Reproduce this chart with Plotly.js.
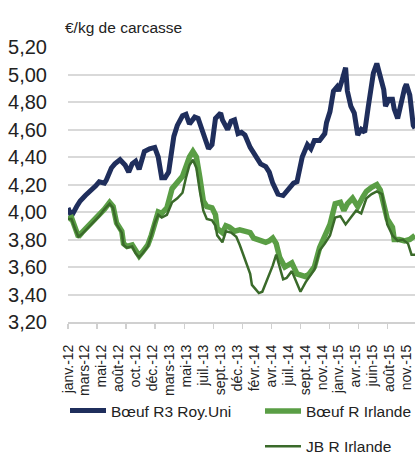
<!DOCTYPE html>
<html>
<head>
<meta charset="utf-8">
<script src="https://cdn.plot.ly/plotly-3.0.1.min.js"></script>
<style>
  html, body { margin: 0; padding: 0; background: #ffffff; }
  #chart { width: 415px; height: 456px; }
</style>
</head>
<body>
<div id="chart"></div>
<script>
// Week index (0 = first week of janv. 2012) and prices in €/kg de carcasse
var weeksUK = [0,2,5,7,10,13,16,18,21,22,25,27,30,33,35,37,39,41,44,47,50,52,54,56,58,61,63,66,68,70,73,75,77,79,81,83,85,88,89,92,94,96,98,100,102,105,108,111,114,116,118,121,124,127,130,132,134,135,138,140,142,145,148,149,151,153,155,156,158,160,161,163,165,167,169,171,173,175,176,178,180,182,183,185,187,188,190,192,194,195,197,199,200];
var valuesUK = [4.03,3.97,4.04,4.08,4.12,4.15,4.19,4.22,4.21,4.23,4.32,4.35,4.38,4.34,4.29,4.35,4.37,4.31,4.44,4.46,4.47,4.40,4.25,4.25,4.29,4.55,4.63,4.70,4.71,4.64,4.69,4.68,4.60,4.53,4.46,4.49,4.68,4.72,4.67,4.60,4.66,4.67,4.57,4.58,4.56,4.47,4.41,4.35,4.33,4.29,4.21,4.13,4.12,4.16,4.21,4.22,4.33,4.40,4.49,4.46,4.52,4.52,4.57,4.65,4.73,4.88,4.91,4.88,4.96,5.05,4.88,4.77,4.72,4.56,4.60,4.58,4.76,4.93,5.01,5.08,4.99,4.89,4.77,4.82,4.82,4.75,4.68,4.80,4.90,4.93,4.85,4.63,4.61];

var weeksIE = [0,2,4,6,8,11,15,18,21,24,26,28,31,32,34,37,39,41,43,46,48,50,52,54,57,60,63,66,68,70,72,74,76,78,80,83,85,86,89,91,93,96,99,102,105,107,111,114,116,118,120,122,125,127,129,132,134,137,139,142,145,148,151,154,157,159,161,164,167,170,172,175,178,180,182,184,187,188,191,194,197,200];
var valuesIE = [3.95,3.96,3.89,3.82,3.85,3.89,3.93,3.97,4.02,4.07,4.04,3.92,3.86,3.77,3.75,3.76,3.71,3.68,3.71,3.76,3.83,3.93,4.00,3.99,4.03,4.17,4.21,4.26,4.33,4.40,4.44,4.40,4.25,4.08,4.04,4.03,3.98,3.88,3.85,3.90,3.89,3.86,3.87,3.86,3.85,3.81,3.79,3.78,3.79,3.81,3.77,3.67,3.60,3.61,3.63,3.55,3.54,3.53,3.55,3.60,3.74,3.82,3.91,4.06,4.07,4.01,4.06,4.10,4.04,4.11,4.15,4.18,4.20,4.16,4.03,3.95,3.89,3.80,3.80,3.79,3.80,3.83];

var weeksJB = [0,2,4,6,8,11,15,18,21,24,26,28,31,32,34,37,39,41,43,46,48,50,52,54,57,60,63,66,68,70,72,74,76,78,80,83,85,86,89,91,94,97,99,102,105,106,110,112,115,118,120,122,124,126,129,132,134,137,139,142,145,148,151,154,157,160,163,166,169,172,175,178,181,183,184,187,190,193,196,198,200];
var valuesJB = [3.95,3.95,3.88,3.82,3.84,3.88,3.93,3.97,4.02,4.06,4.03,3.91,3.85,3.76,3.74,3.75,3.70,3.67,3.70,3.75,3.83,3.92,3.98,3.96,3.98,4.07,4.10,4.14,4.25,4.34,4.38,4.32,4.15,4.01,3.95,3.94,3.90,3.83,3.78,3.86,3.85,3.82,3.76,3.65,3.55,3.47,3.41,3.42,3.51,3.61,3.69,3.60,3.51,3.52,3.57,3.48,3.42,3.49,3.53,3.58,3.72,3.77,3.83,3.96,3.97,3.91,3.96,4.01,3.99,4.10,4.13,4.15,4.13,3.98,3.91,3.83,3.79,3.80,3.77,3.69,3.69];

var seriesNames = ["Bœuf R3 Roy.Uni", "Bœuf R Irlande", "JB R Irlande"];
var tickLabels = ["janv.-12","mars-12","mai-12","août-12","oct.-12","déc.-12","mars-13","mai-13","juil.-13","sept.-13","déc.-13","févr.-14","avr.-14","juil.-14","sept.-14","nov.-14","janv.-15","avr.-15","juin-15","août-15","nov.-15"];
var yTitle = "€/kg de carcasse";

var FONT = '"Liberation Sans", Arial, sans-serif';
var labelStep = 9.76;   // weeks between labels
var markStep = 16.75;   // weeks between tick marks
var labelVals = tickLabels.map(function (_, i) { return i * labelStep; });
var markVals = [];
for (var k = 0; k * markStep <= 200; k++) markVals.push(k * markStep);

var traces = [
  { x: weeksUK, y: valuesUK, name: seriesNames[0], type: 'scatter', mode: 'lines',
    line: { color: '#1f2e5c', width: 5 }, legend: 'legend', legendgroup: 'a' },
  { x: weeksIE, y: valuesIE, name: seriesNames[1], type: 'scatter', mode: 'lines',
    line: { color: '#5a9e45', width: 5.5 }, legend: 'legend2', legendgroup: 'b' },
  { x: weeksJB, y: valuesJB, name: seriesNames[2], type: 'scatter', mode: 'lines',
    line: { color: '#3a6a2a', width: 2.5 }, legend: 'legend2', legendgroup: 'c' }
];

var layout = {
  width: 415, height: 456,
  margin: { l: 68, r: 0, t: 47, b: 134, pad: 0, autoexpand: false },
  paper_bgcolor: '#ffffff', plot_bgcolor: '#ffffff',
  separators: ',.',
  font: { family: FONT, color: '#222222' },
  title: { text: yTitle, x: 65 / 415, xref: 'container', xanchor: 'left',
           y: 1 - 28 / 456, yref: 'container', yanchor: 'middle', automargin: false,
           font: { family: FONT, size: 15.5, color: '#222222' } },
  xaxis: {
    range: [0, 200], showgrid: false, zeroline: false, automargin: false,
    showline: true, linecolor: '#d0d0d0', linewidth: 2,
    tickmode: 'array', tickvals: labelVals, ticktext: tickLabels,
    tickangle: -90, ticks: '', ticklabelstandoff: 15, ticklabeloverflow: 'allow',
    tickfont: { family: FONT, size: 14, color: '#222222' },
    minor: { tickmode: 'array', tickvals: markVals, ticks: 'outside', ticklen: 5,
             tickcolor: '#d0d0d0', tickwidth: 1.5, showgrid: false }
  },
  yaxis: {
    range: [3.2, 5.2], dtick: 0.2, tick0: 3.2, tickformat: '.2f', automargin: false,
    showgrid: true, gridcolor: '#d9d9d9', gridwidth: 2,
    zeroline: false, showline: false, ticks: '', ticklabelstandoff: 20,
    tickfont: { family: FONT, size: 20, color: '#222222' }
  },
  showlegend: true,
  legend: { xref: 'container', yref: 'container', x: 65 / 415, y: 1 - 411 / 456,
            xanchor: 'left', yanchor: 'middle', orientation: 'v', itemwidth: 36,
            font: { family: FONT, size: 15.5, color: '#222222' }, bgcolor: 'rgba(0,0,0,0)' },
  legend2: { xref: 'container', yref: 'container', x: 260 / 415, y: 1 - 429 / 456,
             xanchor: 'left', yanchor: 'middle', orientation: 'v', tracegroupgap: 12, itemwidth: 36,
             font: { family: FONT, size: 15.5, color: '#222222' }, bgcolor: 'rgba(0,0,0,0)' }
};

Plotly.newPlot('chart', traces, layout, { displayModeBar: false, staticPlot: true });
</script>
</body>
</html>
